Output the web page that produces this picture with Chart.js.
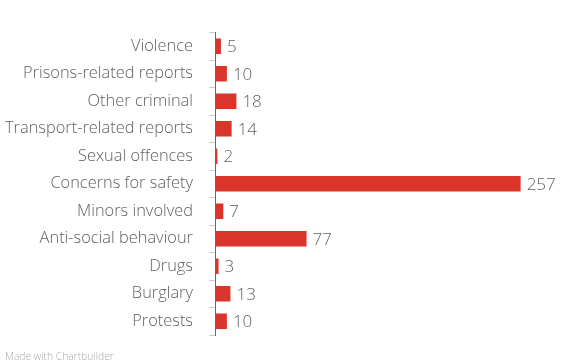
<!DOCTYPE html>
<html>
<head>
<meta charset="utf-8">
<script src="https://cdn.jsdelivr.net/npm/chart.js@4"></script>
<style>
  html, body { margin: 0; padding: 0; background: #fff; }
  #wrap { position: relative; width: 564px; height: 363px; }
  #footer { position: absolute; left: 5px; top: 349px; font: 300 10.3px "Open Sans", sans-serif; color: #aaa; }
</style>
</head>
<body>
<div id="wrap">
  <canvas id="c" width="564" height="363"></canvas>
  <div id="footer">Made with Chartbuilder</div>
</div>
<script>
const categories = ["Violence", "Prisons-related reports", "Other criminal", "Transport-related reports", "Sexual offences", "Concerns for safety", "Minors involved", "Anti-social behaviour", "Drugs", "Burglary", "Protests"];
const values = [5, 10, 18, 14, 2, 257, 7, 77, 3, 13, 10];

const valueLabels = {
  id: 'valueLabels',
  afterDatasetsDraw(chart) {
    const ctx = chart.ctx;
    const meta = chart.getDatasetMeta(0);
    ctx.save();
    ctx.font = '300 17px "Open Sans"';
    ctx.fillStyle = '#5f5f5f';
    ctx.textAlign = 'left';
    ctx.textBaseline = 'middle';
    meta.data.forEach((bar, i) => {
      ctx.fillText(String(values[i]), bar.x + 6, bar.y + 1);
    });
    ctx.restore();
  }
};

new Chart(document.getElementById('c'), {
  type: 'bar',
  data: {
    labels: categories,
    datasets: [{
      data: values,
      backgroundColor: '#d9352b',
      borderWidth: 0,
      categoryPercentage: 1,
      barPercentage: 0.56
    }]
  },
  options: {
    indexAxis: 'y',
    responsive: false,
    animation: false,
    layout: { padding: { top: 32.5, bottom: 28, left: 0, right: 16 } },
    plugins: { legend: { display: false }, tooltip: { enabled: false } },
    scales: {
      x: { display: false, min: 0, max: 280 },
      y: {
        afterFit(scale) { scale.width = 215; },
        border: { display: true, color: '#666', width: 1 },
        grid: { drawOnChartArea: false, drawTicks: true, tickLength: 12, tickColor: '#ccc', tickBorderDash: [0, 6, 6, 100] },
        ticks: { color: '#5f5f5f', padding: 10, font: { family: 'Open Sans', size: 16.4, weight: 300 } }
      }
    }
  },
  plugins: [valueLabels]
});
</script>
</body>
</html>
